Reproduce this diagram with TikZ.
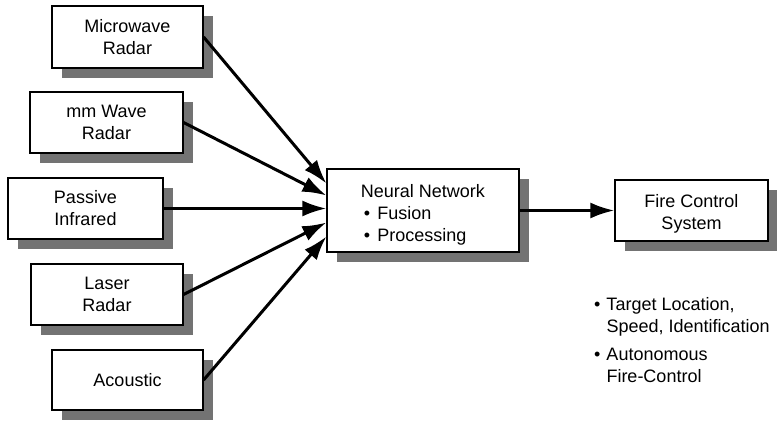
\documentclass[tikz,border=0pt]{standalone}
\usepackage{fontspec}
\setmainfont{Liberation Sans}
\usetikzlibrary{arrows.meta,shadows}
\begin{document}
\begin{tikzpicture}[x=1pt,y=-1pt,
  box/.style={draw=black, line width=1.2pt, fill=white, align=center, inner sep=0pt,
     font=\fontsize{18}{22}\selectfont,
     drop shadow={shadow xshift=10pt, shadow yshift=-10pt, fill=black!55, opacity=1, draw=none}},
  arr/.style={line width=3pt, -{Latex[length=24pt,width=16pt]}},
  notes/.style={anchor=base west, inner sep=0pt, font=\fontsize{18}{22}\selectfont}]
\useasboundingbox (0,0) rectangle (777,422);

\node[box, minimum width=151pt, minimum height=62pt] (mw) at (127.5,37) {Microwave\\Radar};
\node[box, minimum width=153pt, minimum height=61pt] (mm) at (106.5,122.5) {mm Wave\\Radar};
\node[box, minimum width=155pt, minimum height=61pt] (pi) at (85.5,208.5) {Passive\\Infrared};
\node[box, minimum width=152pt, minimum height=61pt] (lr) at (107,294.5) {Laser\\Radar};
\node[box, minimum width=151pt, minimum height=60pt] (ac) at (127.5,380) {Acoustic};

\node[box, minimum width=192pt, minimum height=83pt, align=left] (nn) at (423,210.5)
  {\rule{0pt}{21pt}Neural Network\\\hspace*{3pt}\textbullet\hspace{7pt}Fusion\\\hspace*{3pt}\textbullet\hspace{7pt}Processing};

\node[box, minimum width=153pt, minimum height=61pt] (fc) at (691.5,210.5) {\rule{0pt}{20pt}Fire Control\\System};

\node[notes] (txt) at (594,311) {\begin{tabular}[t]{@{}l@{\hspace{6pt}}l@{}}\textbullet & Target Location,\\ & Speed, Identification\\[6pt] \textbullet & Autonomous\\ & Fire-Control\end{tabular}};

\draw[arr] (mw.east) -- ([yshift=27pt]nn.west);
\draw[arr] (mm.east) -- ([yshift=15pt]nn.west);
\draw[arr] (pi.east) -- (pi.east -| nn.west);
\draw[arr] (lr.east) -- ([yshift=-12pt]nn.west);
\draw[arr] (ac.east) -- ([yshift=-26pt]nn.west);
\draw[arr] (nn.east) -- (fc.west);
\end{tikzpicture}
\end{document}
